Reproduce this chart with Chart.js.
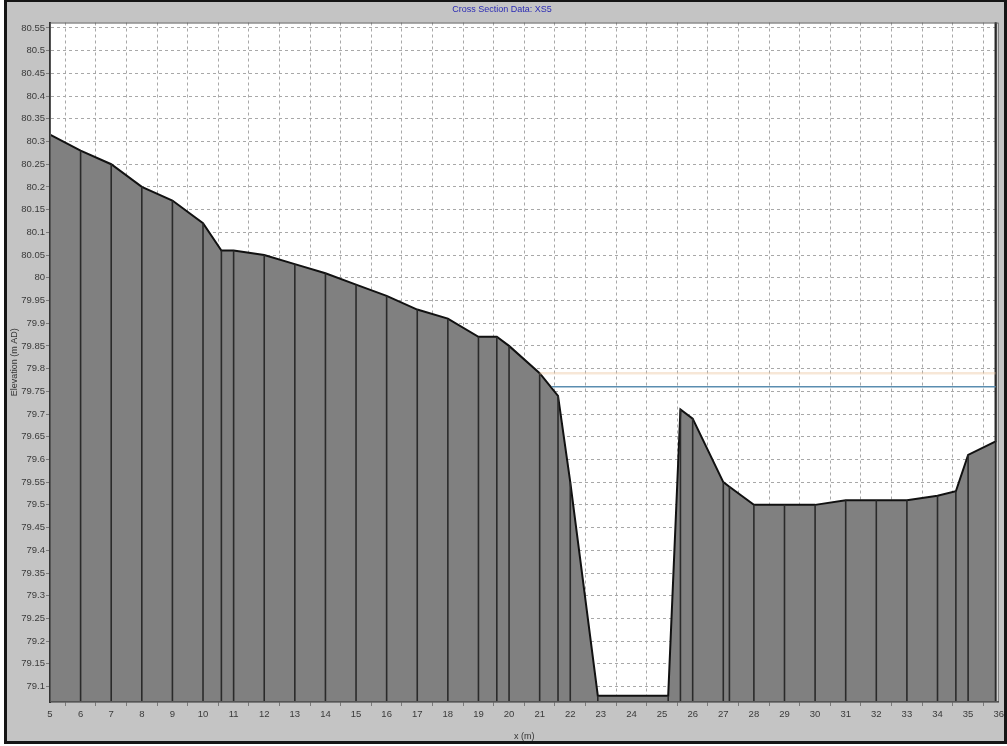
<!DOCTYPE html>
<html>
<head>
<meta charset="utf-8">
<title>Cross Section Data: XS5</title>
<script src="https://cdn.jsdelivr.net/npm/chart.js@4/dist/chart.umd.min.js"></script>
<style>
  html, body { margin: 0; padding: 0; background: #ffffff; }
  #wrap { position: relative; width: 1007px; height: 746px; overflow: hidden; }
  #panel { position: absolute; left: 4px; top: 0; width: 1003px; height: 744px; background: #c4c4c4; }
  #chart { position: absolute; left: 0; top: 0; }
  #frame { position: absolute; left: 4px; top: 0; width: 997px; height: 739px;
           border: 3px solid #151515; border-top-width: 2px; pointer-events: none; }
</style>
</head>
<body>
<div id="wrap">
  <div id="panel"></div>
  <canvas id="chart" width="1007" height="746"></canvas>
  <div id="frame"></div>
</div>
<script>
// Ground profile: chainage (m) and bed elevation (m AD)
const stations = [5, 6, 7, 8, 9, 10, 10.6, 11, 12, 13, 14, 15, 16, 17, 18, 19, 19.6, 20, 21, 21.6,
                  22, 22.9, 25.2, 25.6, 26, 27, 27.2, 28, 29, 30, 31, 32, 33, 34, 34.6, 35, 35.9, 35.9];
const elevations = [80.315, 80.28, 80.25, 80.2, 80.17, 80.12, 80.06, 80.06, 80.05, 80.03, 80.01, 79.985,
                    79.96, 79.93, 79.91, 79.87, 79.87, 79.85, 79.79, 79.74,
                    79.55, 79.08, 79.08, 79.71, 79.69, 79.55, 79.54, 79.5, 79.5, 79.5, 79.51, 79.51,
                    79.51, 79.52, 79.53, 79.61, 79.64, 80.9];

// Water surface and energy level, with the chainage range they span
const waterLevel = 79.76;
const waterExtent = [21.4, 35.9];
const energyLevel = 79.79;
const energyExtent = [21.0, 35.9];

// Axis ticks
const xTicks = [5, 6, 7, 8, 9, 10, 11, 12, 13, 14, 15, 16, 17, 18, 19, 20,
                21, 22, 23, 24, 25, 26, 27, 28, 29, 30, 31, 32, 33, 34, 35, 36];
const yTicks = [79.1, 79.15, 79.2, 79.25, 79.3, 79.35, 79.4, 79.45, 79.5, 79.55, 79.6, 79.65,
                79.7, 79.75, 79.8, 79.85, 79.9, 79.95, 80, 80.05, 80.1, 80.15, 80.2, 80.25,
                80.3, 80.35, 80.4, 80.45, 80.5, 80.55];

const profile = stations.map((s, i) => ({ x: s, y: elevations[i] }));
const levelLine = (level, extent) => extent.map(s => ({ x: s, y: level }));

// White plotting area with a thin frame
const plotBackground = {
  id: 'plotBackground',
  beforeDraw(chart) {
    const { ctx, chartArea: a } = chart;
    ctx.save();
    ctx.fillStyle = '#ffffff';
    ctx.fillRect(a.left, a.top, a.right - a.left, a.bottom - a.top);
    ctx.restore();
  },
  afterDraw(chart) {
    const { ctx, chartArea: a } = chart;
    ctx.save();
    ctx.strokeStyle = '#555555';
    ctx.lineWidth = 1;
    ctx.strokeRect(a.left + 0.5, a.top + 0.5, a.right - a.left - 1, a.bottom - a.top - 1);
    ctx.restore();
  }
};

const tickFont = { family: '"Liberation Sans", Arial, sans-serif', size: 9.5 };
const gridStyle = {
  color: '#a8a8a8',
  lineWidth: 1,
  drawTicks: true,
  tickLength: 4,
  tickColor: '#7a7a7a',
  tickBorderDash: []
};

new Chart(document.getElementById('chart'), {
  type: 'line',
  data: {
    datasets: [
      {
        type: 'line',
        label: 'Energy level',
        data: levelLine(energyLevel, energyExtent),
        borderColor: 'rgba(236, 196, 156, 0.4)',
        borderWidth: 2.5,
        pointRadius: 0,
        fill: false,
        order: 1
      },
      {
        type: 'line',
        label: 'Water level',
        data: levelLine(waterLevel, waterExtent),
        borderColor: '#5a8db0',
        borderWidth: 1.5,
        pointRadius: 0,
        fill: false,
        order: 0
      },
      {
        type: 'bar',
        label: 'Survey points',
        data: profile,
        backgroundColor: '#2a2a2a',
        borderWidth: 0,
        barThickness: 1.6,
        inflateAmount: 0,
        grouped: false,
        order: 2
      },
      {
        type: 'line',
        label: 'Ground',
        data: profile,
        borderColor: '#111111',
        borderWidth: 2,
        backgroundColor: '#808080',
        fill: 'start',
        tension: 0,
        pointRadius: 0,
        clip: 0,
        order: 3
      }
    ]
  },
  options: {
    responsive: false,
    animation: false,
    devicePixelRatio: 1,
    layout: { padding: { left: 0, right: 3, top: 0, bottom: 0 } },
    plugins: {
      legend: { display: false },
      tooltip: { enabled: false },
      title: {
        display: true,
        text: 'Cross Section Data: XS5',
        color: '#2a2ab4',
        font: { family: '"Liberation Sans", Arial, sans-serif', size: 9, weight: 'normal', lineHeight: 1.2 },
        padding: { top: 4, bottom: 7.7 }
      }
    },
    scales: {
      x: {
        type: 'linear',
        offset: false,
        min: 5,
        max: 36,
        afterFit(scale) { scale.height = 44; },
        afterBuildTicks(scale) { scale.ticks = xTicks.map(v => ({ value: v })); },
        ticks: {
          autoSkip: false,
          maxRotation: 0,
          padding: 3,
          color: '#3a3a3a',
          font: tickFont
        },
        grid: gridStyle,
        border: { display: true, color: '#333333', width: 1.5, dash: [3, 3] },
        title: {
          display: true,
          text: 'x (m)',
          color: '#333333',
          font: { family: '"Liberation Sans", Arial, sans-serif', size: 9, lineHeight: 1.2 },
          padding: { top: 0, bottom: 3.6 }
        }
      },
      y: {
        type: 'linear',
        min: 79.066,
        max: 80.562,
        afterFit(scale) { scale.width = 50; },
        afterBuildTicks(scale) { scale.ticks = yTicks.map(v => ({ value: v })); },
        ticks: {
          autoSkip: false,
          padding: 1,
          color: '#3a3a3a',
          font: tickFont,
          callback: v => String(v)
        },
        grid: gridStyle,
        border: { display: true, color: '#333333', width: 2, dash: [3, 3] },
        title: {
          display: true,
          text: 'Elevation (m AD)',
          color: '#333333',
          font: { family: '"Liberation Sans", Arial, sans-serif', size: 9, lineHeight: 1.2 },
          padding: { top: 9.6, bottom: 0 }
        }
      }
    }
  },
  plugins: [plotBackground]
});
</script>
</body>
</html>
